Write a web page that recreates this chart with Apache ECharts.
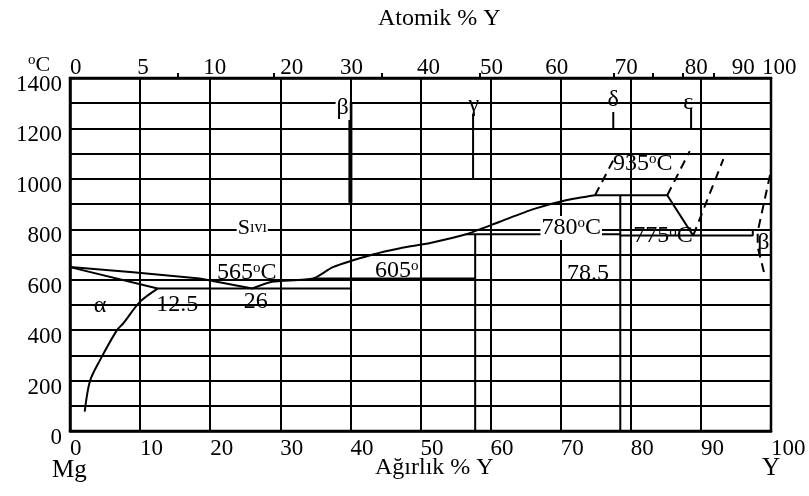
<!DOCTYPE html>
<html>
<head>
<meta charset="utf-8">
<script src="https://cdn.jsdelivr.net/npm/echarts@6/dist/echarts.min.js"></script>
<style>
  html, body { margin: 0; padding: 0; background: #fff; }
  #chart { width: 809px; height: 496px; }
</style>
</head>
<body>
<div id="chart"></div>
<script>
// Mg–Y equilibrium phase diagram (weight % Y vs temperature, °C)

// Atomic-% scale along the top edge, placed at its weight-% equivalents
const atomicLabels = ['0', '5', '10', '20', '30', '40', '50', '60', '70', '80', '90', '100'];
const atomicLabelAt = [0, 9.6, 19.0, 30.0, 38.5, 49.5, 58.5, 67.8, 77.7, 87.7, 94.4, 98.7];
const atomicTickAt = [15.4, 29.0, 44.5, 58.5, 77.5, 83.2, 87.4, 91.9];

// Mg-rich side
const liquidusMg = [[0, 650], [9, 630], [18.5, 605], [26, 565]];
const solidusMg = [[0, 650], [12.5, 565]];
const solvusMg = [[12.5, 565], [10, 513], [7.6, 427], [6.7, 400], [4.3, 282], [2.85, 198], [2.1, 77]];

// Liquidus from the eutectic up to the 935 °C plateau
const liquidusY = [[26, 565], [28.8, 592], [34.7, 605], [37.5, 650], [43.2, 700], [47.1, 725],
                   [51.4, 746], [56.5, 780], [61.3, 830], [66.1, 880], [70.9, 916], [74.9, 935]];

// Invariant lines
const eutectic565 = [[12.5, 565], [40, 565]];
const peritectic605 = [[34.7, 605], [57.8, 605]];
const peritectic780 = [[56.5, 780], [78.5, 780]];
const eutectic775 = [[78.5, 775], [97.4, 775], [97.4, 800]];
const plateau935 = [[74.9, 935], [85.2, 935], [88.9, 775]];

// Intermediate phase boundaries
const gammaLine = [[57.8, 780], [57.8, 0]];
const deltaLine = [[78.5, 935], [78.5, 0]];

// Phase pointer lines
const betaMark = [[40, 1300], [40, 905]];
const gammaMark = [[57.5, 1258], [57.5, 996]];
const deltaMark = [[77.5, 1265], [77.5, 1194]];
const epsilonMark = [[88.6, 1281], [88.6, 1194]];

// Uncertain (dashed) boundaries
const dashA = [[74.9, 935], [77.8, 1090]];
const dashB = [[85.2, 935], [88.4, 1110]];
const dashC = [[88.9, 775], [93.2, 1078]];
const dashD = [[99.86, 1015], [98.1, 790], [98.1, 730], [99.1, 619]];

// Text annotations: [weight %, °C, text, white backing]
const notes = [
  [4.28, 496, 'α', false],
  [15.3, 500, '12.5', false],
  [26.5, 512, '26', false],
  [25.2, 627, '{n|565}{d|o}{n|C}', false],
  [26.0, 805, '{b|S}{s|ıvı}', true],
  [46.6, 635, '{n|605}{d|o}', false],
  [71.5, 805, '{n|780}{d|o}{n|C}', true],
  [73.9, 623, '78.5', false],
  [84.6, 773, '{n|775}{d|o}{n|C}', false],
  [81.7, 1059, '{n|935}{d|o}{n|C}', false],
  [98.9, 746, 'β', false],
  [38.9, 1281, 'β', true],
  [57.6, 1293, 'γ', false],
  [77.5, 1313, 'δ', false],
  [88.2, 1301, 'ε', false]
];

const FONT = '"Liberation Serif", "Times New Roman", serif';
const INK = '#000';
const FS = 24;

function solid(data, width) {
  return {
    type: 'line', data, xAxisIndex: 0, yAxisIndex: 0,
    showSymbol: false, symbol: 'none', silent: true, z: 5,
    lineStyle: { color: INK, width: width || 2 }
  };
}
function dashed(data) {
  return {
    type: 'line', data, xAxisIndex: 0, yAxisIndex: 0,
    showSymbol: false, symbol: 'none', silent: true, z: 5,
    lineStyle: { color: INK, width: 2, type: [9, 6] }
  };
}

const richStyles = {
  n: { fontFamily: FONT, fontSize: FS, color: INK },
  b: { fontFamily: FONT, fontSize: 22, color: INK },
  d: { fontFamily: FONT, fontSize: 15, color: INK, verticalAlign: 'top', padding: [0, 0, 9, 0] },
  s: { fontFamily: FONT, fontSize: 16, color: INK }
};

const chart = echarts.init(document.getElementById('chart'), null, { renderer: 'canvas' });

chart.setOption({
  backgroundColor: '#fff',
  animation: false,
  grid: { left: 70, right: 38, top: 78, bottom: 65, show: true, borderColor: INK, borderWidth: 2.5, backgroundColor: 'transparent' },
  xAxis: [
    {
      type: 'value', position: 'bottom', min: 0, max: 100, interval: 10,
      axisLine: { show: true, lineStyle: { color: INK, width: 2.5 } },
      axisTick: { show: false },
      axisLabel: { color: INK, fontFamily: FONT, fontSize: FS - 1, align: 'left', margin: 6 },
      splitLine: { show: true, lineStyle: { color: INK, width: 2 } }
    },
    {
      type: 'value', position: 'top', min: 0, max: 100,
      axisLine: { show: true, lineStyle: { color: INK, width: 2.5 } },
      axisTick: { show: true, customValues: atomicTickAt, length: 5, inside: false, lineStyle: { color: INK, width: 2 } },
      axisLabel: {
        show: true, customValues: atomicLabelAt, color: INK, fontFamily: FONT, fontSize: FS - 1,
        align: 'left', margin: -1,
        formatter: v => {
          const i = atomicLabelAt.indexOf(v);
          return i >= 0 ? atomicLabels[i] : '';
        }
      },
      splitLine: { show: false }
    }
  ],
  yAxis: {
    type: 'value', min: 0, max: 1400, interval: 100,
    axisLine: { show: true, lineStyle: { color: INK, width: 2.5 } },
    axisTick: { show: false },
    axisLabel: {
      color: INK, fontFamily: FONT, fontSize: FS - 1, margin: 8,
      verticalAlign: 'top', lineHeight: 14,
      formatter: v => (v % 200 === 0 ? String(v) : '')
    },
    splitLine: { show: true, lineStyle: { color: INK, width: 2 } }
  },
  series: [
    solid(liquidusMg), solid(solidusMg),
    Object.assign(solid(solvusMg), { smooth: 0.3 }),
    Object.assign(solid(liquidusY), { smooth: 0.2 }),
    solid(eutectic565), solid(peritectic605), solid(peritectic780), solid(eutectic775), solid(plateau935),
    solid(gammaLine), solid(deltaLine),
    solid(betaMark, 4), solid(gammaMark), solid(deltaMark), solid(epsilonMark),
    dashed(dashA), dashed(dashB), dashed(dashC), dashed(dashD),
    {
      type: 'scatter', xAxisIndex: 0, yAxisIndex: 0, symbolSize: 0, silent: true, z: 10,
      itemStyle: { opacity: 1 },
      data: notes.map(n => ({
        value: [n[0], n[1]],
        label: {
          show: true, position: 'inside', formatter: n[2], opacity: 1,
          fontFamily: FONT, fontSize: FS, color: INK, textBorderWidth: 0, rich: richStyles,
          backgroundColor: n[3] ? '#fff' : 'transparent', padding: n[3] ? [0, 1] : 0
        }
      }))
    }
  ],
  graphic: [
    { type: 'text', left: 378, top: 7, style: { text: 'Atomik % Y', font: '24px ' + FONT, fill: INK } },
    { type: 'text', left: 375, top: 456, style: { text: 'Ağırlık % Y', font: '24px ' + FONT, fill: INK } },
    { type: 'text', left: 52, top: 458, style: { text: 'Mg', font: '25px ' + FONT, fill: INK } },
    { type: 'text', left: 762, top: 456, style: { text: 'Y', font: '25px ' + FONT, fill: INK } },
    {
      type: 'text', left: 28, top: 53,
      style: { text: '{d|o}{b|C}', rich: richStyles, fill: INK }
    }
  ]
});
</script>
</body>
</html>
